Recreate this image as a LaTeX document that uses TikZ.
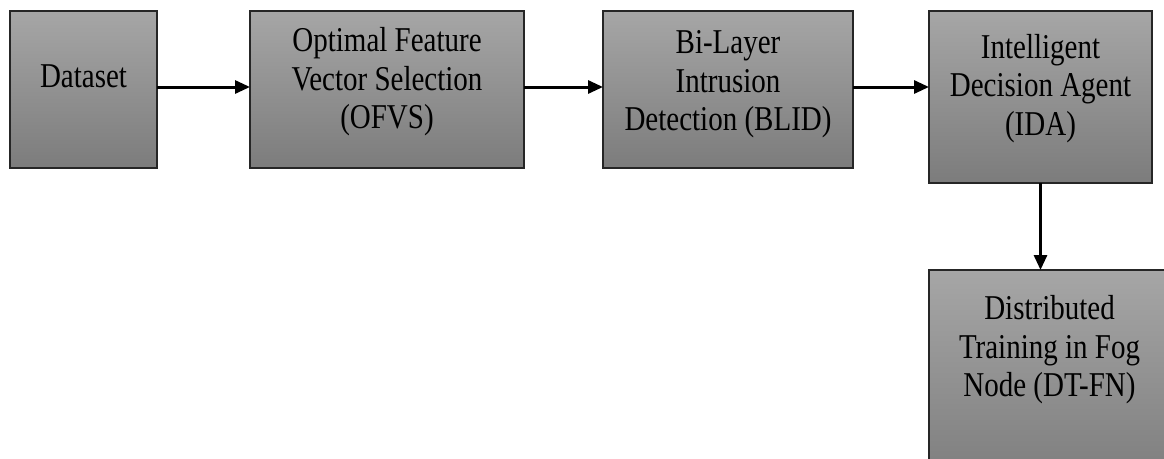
\documentclass[tikz,border=0pt]{standalone}
\usepackage{fontspec}
\setmainfont{Liberation Serif}
\usetikzlibrary{arrows.meta}
\definecolor{gtop}{HTML}{A6A6A6}
\definecolor{gbot}{HTML}{7C7C7C}
\definecolor{edge}{HTML}{262626}
\newcommand{\boxtext}[1]{\scalebox{1}[1.2]{\fontsize{29}{32}\selectfont\begin{tabular}{@{}c@{}}#1\end{tabular}}}
\begin{document}
\begin{tikzpicture}[x=1pt,y=-1pt,
  box/.style={draw=edge, line width=1.5pt, top color=gtop, bottom color=gbot,
    inner sep=0pt, outer sep=0pt},
  txt/.style={text=black, inner sep=0pt},
  arr/.style={line width=3pt, -{Triangle[length=15pt,width=13pt]}}]
\useasboundingbox[fill=white] (0,0) rectangle (1164,458);
\clip (0,0) rectangle (1164,458);
\node[box, minimum width=147pt, minimum height=157pt,
  label={[txt, yshift=9.7pt]center:\boxtext{Dataset}}] (ds) at (83.5,89.5) {};
\node[box, minimum width=274pt, minimum height=157pt,
  label={[txt, yshift=7pt]center:\boxtext{Optimal Feature\\Vector Selection\\(OFVS)}}] (ofvs) at (387,89.5) {};
\node[box, minimum width=250pt, minimum height=157pt,
  label={[txt, yshift=5pt]center:\boxtext{Bi-Layer\\Intrusion\\Detection (BLID)}}] (blid) at (728,89.5) {};
\node[box, minimum width=223pt, minimum height=172pt,
  label={[txt, yshift=8pt]center:\boxtext{Intelligent\\Decision Agent\\(IDA)}}] (ida) at (1040.5,97) {};
\node[box, minimum width=247pt, minimum height=220pt,
  label={[txt, yshift=29.5pt, xshift=-3pt]center:\boxtext{Distributed\\Training in Fog\\Node (DT-FN)}}] (dtfn) at (1052.5,380) {};
\draw[arr] ([yshift=2.5pt]ds.east) -- ([yshift=2.5pt]ofvs.west);
\draw[arr] ([yshift=2.5pt]ofvs.east) -- ([yshift=2.5pt]blid.west);
\draw[arr] ([yshift=2.5pt]blid.east) -- ([yshift=2.5pt]blid.east -| ida.west);
\draw[arr] (ida.south) -- (ida.south |- dtfn.north);
\end{tikzpicture}
\end{document}
